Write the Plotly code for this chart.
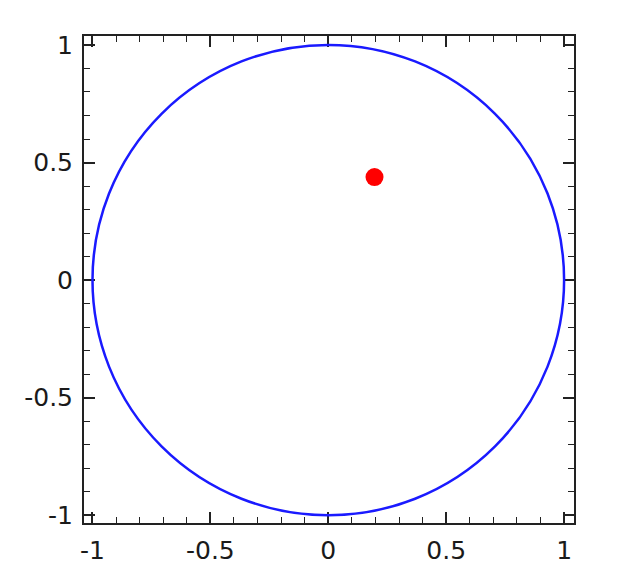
import plotly.graph_objects as go

# Data
circle_center = (0.0, 0.0)
circle_radius = 1.0
point_x = [0.196]
point_y = [0.438]
tick_vals = [-1, -0.5, 0, 0.5, 1]
tick_text = ["-1", "-0.5", "0", "0.5", "1"]

fig = go.Figure()
fig.add_trace(go.Scatter(
    x=point_x, y=point_y, mode="markers",
    marker=dict(color="#ff0000", size=18, line=dict(width=0)),
    showlegend=False, hoverinfo="skip",
))
cx, cy = circle_center
fig.add_shape(type="circle", xref="x", yref="y",
              x0=cx - circle_radius, y0=cy - circle_radius,
              x1=cx + circle_radius, y1=cy + circle_radius,
              line=dict(color="#1a1aff", width=2.5), layer="above")

axis_common = dict(
    showgrid=False, zeroline=False,
    showline=True, linecolor="#222222", linewidth=2, mirror="ticks",
    ticks="inside", ticklen=11, tickwidth=1.6, tickcolor="#222222",
    tickvals=tick_vals, ticktext=tick_text,
    tickfont=dict(family="DejaVu Sans", size=25, color="#1a1a1a"),
    minor=dict(dtick=0.1, ticks="inside", ticklen=6, tickwidth=1.4, tickcolor="#222222"),
)
fig.update_xaxes(range=[-1.036, 1.042], ticklabelstandoff=4, **axis_common)
fig.update_yaxes(range=[-1.033, 1.038], ticklabelstandoff=4, **axis_common)

fig.update_layout(
    width=632, height=582,
    margin=dict(l=76, r=66, t=28, b=67, pad=0),
    paper_bgcolor="white", plot_bgcolor="white",
)
fig.write_html("out.html")
